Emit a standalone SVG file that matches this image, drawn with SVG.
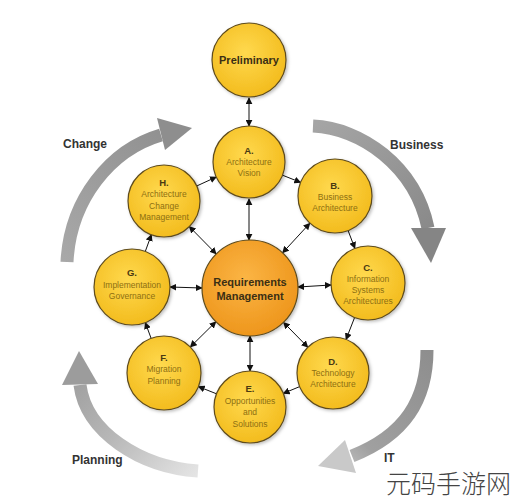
<svg xmlns="http://www.w3.org/2000/svg" width="513" height="500" viewBox="0 0 513 500">
<defs>
<radialGradient id="gy" cx="45%" cy="40%" r="60%">
<stop offset="0" stop-color="#FFD94E"/>
<stop offset="1" stop-color="#F3BC1E"/>
</radialGradient>
<radialGradient id="go" cx="45%" cy="40%" r="60%">
<stop offset="0" stop-color="#FBB545"/>
<stop offset="1" stop-color="#EE961C"/>
</radialGradient>
<filter id="sh" x="-20%" y="-20%" width="140%" height="140%">
<feDropShadow dx="1.5" dy="1.5" stdDeviation="1.5" flood-color="#000" flood-opacity="0.25"/>
</filter>
<marker id="ah" viewBox="0 0 10 10" refX="9" refY="5" markerWidth="7" markerHeight="7" markerUnits="userSpaceOnUse" orient="auto-start-reverse">
<path d="M0,0 L10,5 L0,10 z" fill="#111"/>
</marker>
<linearGradient id="gTL" gradientUnits="userSpaceOnUse" x1="67" y1="262" x2="190" y2="128">
<stop offset="0" stop-color="#a8a8a8"/><stop offset="1" stop-color="#8e8e8e"/>
</linearGradient>
<linearGradient id="gTR" gradientUnits="userSpaceOnUse" x1="313" y1="126" x2="432" y2="262">
<stop offset="0" stop-color="#a5a5a5"/><stop offset="1" stop-color="#858585"/>
</linearGradient>
<linearGradient id="gBR" gradientUnits="userSpaceOnUse" x1="427" y1="350" x2="318" y2="466">
<stop offset="0" stop-color="#8e8e8e"/><stop offset="0.7" stop-color="#a0a0a0"/><stop offset="1" stop-color="#cfcfcf"/>
</linearGradient>
<linearGradient id="gBL" gradientUnits="userSpaceOnUse" x1="200" y1="470" x2="80" y2="352">
<stop offset="0" stop-color="#e4e4e4"/><stop offset="0.5" stop-color="#b8b8b8"/><stop offset="1" stop-color="#9a9a9a"/>
</linearGradient>
<style>
.n{fill:url(#gy);stroke:#5e4b1c;stroke-width:1.2;filter:url(#sh)}
.c{fill:none;stroke:#111;stroke-width:1;marker-end:url(#ah)}
.d{fill:none;stroke:#111;stroke-width:1;marker-start:url(#ah);marker-end:url(#ah)}
.t{font-family:"Liberation Sans",Arial,sans-serif;font-size:8.5px;fill:#8d6f12;text-anchor:middle}
.l{font-family:"Liberation Sans",Arial,sans-serif;font-size:9.5px;font-weight:bold;fill:#4a3a12;text-anchor:middle}
.b{font-family:"Liberation Sans",Arial,sans-serif;font-size:11px;font-weight:bold;fill:#3b2f14;text-anchor:middle}
.s{font-family:"Liberation Sans",Arial,sans-serif;font-size:12px;font-weight:bold;fill:#333}
</style>
</defs>
<rect width="513" height="500" fill="#fff"/>

<g id="cycle-arrows">
<path d="M67 262 C70 200 110 150 161 135" fill="none" stroke="url(#gTL)" stroke-width="13"/>
<polygon points="157,118 192,128 165,150" fill="#8e8e8e"/>
<path d="M313 126 C360 128 415 165 428 228" fill="none" stroke="url(#gTR)" stroke-width="13"/>
<polygon points="411,228 446,228 431,263" fill="#858585"/>
<path d="M427 350 C427 400 405 435 352 456" fill="none" stroke="url(#gBR)" stroke-width="13"/>
<polygon points="345,440 356,473 318,466" fill="#c9c9c9"/>
<path d="M198 471 C140 467 86 432 80 385" fill="none" stroke="url(#gBL)" stroke-width="13"/>
<polygon points="62,385 98,384 79,351" fill="#9c9c9c"/>
</g>

<text class="s" x="63" y="148">Change</text>
<text class="s" x="390" y="149">Business</text>
<text class="s" x="72" y="464">Planning</text>
<text class="s" x="384" y="462" font-size="10">IT</text>

<g id="connectors">
<line class="d" x1="249" y1="98" x2="249" y2="126"/>
<line class="d" x1="249" y1="199" x2="249" y2="240"/>
<line class="d" x1="309.9" y1="223.2" x2="282.6" y2="252.8"/>
<line class="d" x1="331" y1="285" x2="298" y2="287"/>
<line class="d" x1="307.8" y1="347.2" x2="283.5" y2="322.4"/>
<line class="d" x1="250" y1="371" x2="250" y2="336"/>
<line class="d" x1="190.3" y1="347" x2="215.9" y2="321.7"/>
<line class="d" x1="170" y1="287" x2="202" y2="288"/>
<line class="d" x1="189.3" y1="226.6" x2="216.2" y2="253.9"/>
<line class="c" x1="282.5" y1="175.2" x2="300.6" y2="182.4"/>
<line class="c" x1="348.1" y1="230.6" x2="354.9" y2="248.4"/>
<line class="c" x1="354.6" y1="317.5" x2="346" y2="339.5"/>
<line class="c" x1="299.7" y1="386.6" x2="283.3" y2="393.4"/>
<line class="c" x1="216.5" y1="393.8" x2="198.4" y2="386.6"/>
<line class="c" x1="151.1" y1="338.3" x2="145.3" y2="322.6"/>
<line class="c" x1="145.3" y1="251.4" x2="151.4" y2="234.7"/>
<line class="c" x1="196.7" y1="186" x2="216.3" y2="177"/>
</g>

<g id="preliminary">
<circle class="n" cx="249" cy="60" r="37"/>
<text class="b" x="249" y="64">Preliminary</text>
</g>
<g id="phase-a">
<circle class="n" cx="249" cy="162" r="36"/>
<text class="l" x="249" y="154">A.</text>
<text class="t" x="249" y="165">Architecture</text>
<text class="t" x="249" y="176">Vision</text>
</g>
<g id="phase-b">
<circle class="n" cx="335" cy="196" r="37"/>
<text class="l" x="335" y="189">B.</text>
<text class="t" x="335" y="200">Business</text>
<text class="t" x="335" y="211">Architecture</text>
</g>
<g id="phase-c">
<circle class="n" cx="368" cy="283" r="37"/>
<text class="l" x="368" y="271">C.</text>
<text class="t" x="368" y="282">Information</text>
<text class="t" x="368" y="293">Systems</text>
<text class="t" x="368" y="304">Architectures</text>
</g>
<g id="phase-d">
<circle class="n" cx="333" cy="373" r="36"/>
<text class="l" x="333" y="365">D.</text>
<text class="t" x="333" y="376">Technology</text>
<text class="t" x="333" y="387">Architecture</text>
</g>
<g id="phase-e">
<circle class="n" cx="250" cy="407" r="36"/>
<text class="l" x="250" y="392">E.</text>
<text class="t" x="250" y="404">Opportunities</text>
<text class="t" x="250" y="415">and</text>
<text class="t" x="250" y="427">Solutions</text>
</g>
<g id="phase-f">
<circle class="n" cx="164" cy="373" r="37"/>
<text class="l" x="164" y="361">F.</text>
<text class="t" x="164" y="372">Migration</text>
<text class="t" x="164" y="384">Planning</text>
</g>
<g id="phase-g">
<circle class="n" cx="132" cy="287" r="38"/>
<text class="l" x="132" y="276">G.</text>
<text class="t" x="132" y="288">Implementation</text>
<text class="t" x="132" y="299">Governance</text>
</g>
<g id="phase-h">
<circle class="n" cx="164" cy="201" r="36"/>
<text class="l" x="164" y="186">H.</text>
<text class="t" x="164" y="197">Architecture</text>
<text class="t" x="164" y="209">Change</text>
<text class="t" x="164" y="220">Management</text>
</g>
<g id="requirements">
<circle cx="250" cy="288" r="48" fill="url(#go)" stroke="#5e4b1c" stroke-width="1.2" filter="url(#sh)"/>
<text class="b" x="250" y="286">Requirements</text>
<text class="b" x="250" y="300">Management</text>
</g>

<text x="386" y="493" font-family="'Noto Sans CJK SC',sans-serif" font-size="25" font-weight="300" fill="#444">元码手游网</text>
</svg>
